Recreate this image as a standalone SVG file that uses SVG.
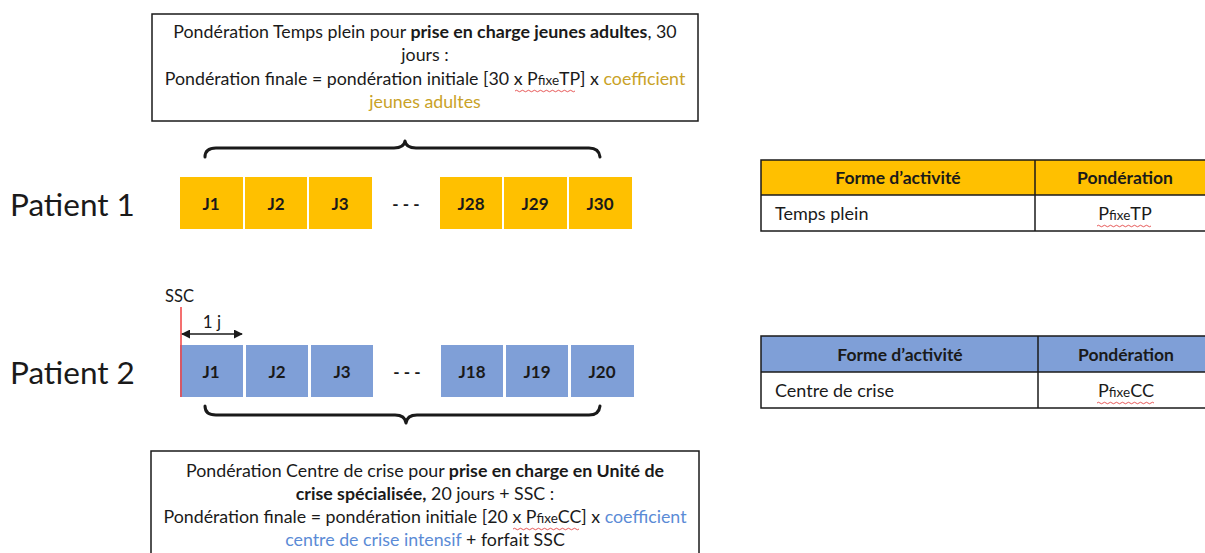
<svg xmlns="http://www.w3.org/2000/svg" width="1205" height="553" viewBox="0 0 1205 553">
  <style>
    text { font-family: Lato, "Open Sans", "Liberation Sans", sans-serif; fill: #1a1a1a; }
    .note { font-size: 17.8px; text-anchor: middle; }
    .b { font-weight: bold; }
    .gold { fill: #C9A227; }
    .blue { fill: #5B8BD6; }
    .sub { font-size: 13.5px; }
    .frame { fill: #fff; stroke: #1a1a1a; stroke-width: 1.5; }
    .day1 { fill: #FFC000; }
    .day2 { fill: #7F9FD7; }
    .dlabel { font-size: 17px; font-weight: bold; text-anchor: middle; }
    .patient { font-size: 31.5px; }
    .brace { fill: none; stroke: #1a1a1a; stroke-width: 3; stroke-linecap: round; stroke-linejoin: round; }
    .grid { fill: none; stroke: #1a1a1a; stroke-width: 1.5; }
    .th { font-size: 17.5px; font-weight: bold; text-anchor: middle; }
    .td { font-size: 18px; }
    .squig { fill: none; stroke: #e03030; stroke-width: 0.8; }
  </style>
  <defs>
    <marker id="ah" viewBox="0 0 10 10" refX="9" refY="5" markerWidth="6" markerHeight="6" orient="auto-start-reverse">
      <path d="M0,0 L10,5 L0,10 z" fill="#1a1a1a"/>
    </marker>
  </defs>
  <rect width="1205" height="553" fill="#fff"/>

  <!-- formula note, full-time young adults -->
  <g id="note-tp">
    <rect class="frame" x="152" y="14" width="546" height="107"/>
    <text class="note" x="425" y="38">Pondération Temps plein pour <tspan class="b">prise en charge jeunes adultes</tspan>, 30</text>
    <text class="note" x="425" y="61">jours :</text>
    <text class="note" x="425" y="85">Pondération finale = pondération initiale [30 x P<tspan class="sub">fixe</tspan>TP] x <tspan class="gold">coefficient</tspan></text>
    <text class="note gold" x="425" y="108">jeunes adultes</text>
    <path class="squig" d="M515,91 q1.5,-1.5 3,0 t3,0 t3,0 t3,0 t3,0 t3,0 t3,0 t3,0 t3,0 t3,0 t3,0 t3,0 t3,0 t3,0 t3,0 t3,0 t3,0 t3,0 t3,0 t3,0"/>
  </g>

  <!-- patient 1 timeline -->
  <g id="patient1">
    <text class="patient" x="10" y="216">Patient 1</text>
    <rect class="day1" x="180" y="177" width="63" height="52"/>
    <rect class="day1" x="245" y="177" width="62" height="52"/>
    <rect class="day1" x="309" y="177" width="63" height="52"/>
    <rect class="day1" x="440" y="177" width="62" height="52"/>
    <rect class="day1" x="504" y="177" width="63" height="52"/>
    <rect class="day1" x="569" y="177" width="63" height="52"/>
    <text class="dlabel" x="211" y="210">J1</text>
    <text class="dlabel" x="276" y="210">J2</text>
    <text class="dlabel" x="340" y="210">J3</text>
    <text class="dlabel" x="406" y="210">- - -</text>
    <text class="dlabel" x="471" y="210">J28</text>
    <text class="dlabel" x="535" y="210">J29</text>
    <text class="dlabel" x="600" y="210">J30</text>
  </g>

  <!-- patient 2 timeline -->
  <g id="patient2">
    <text class="patient" x="10" y="384">Patient 2</text>
    <rect class="day2" x="180" y="345" width="63" height="52"/>
    <rect class="day2" x="246" y="345" width="62" height="52"/>
    <rect class="day2" x="311" y="345" width="62" height="52"/>
    <rect class="day2" x="441" y="345" width="62" height="52"/>
    <rect class="day2" x="506" y="345" width="62" height="52"/>
    <rect class="day2" x="571" y="345" width="63" height="52"/>
    <text class="dlabel" x="211" y="378">J1</text>
    <text class="dlabel" x="277" y="378">J2</text>
    <text class="dlabel" x="342" y="378">J3</text>
    <text class="dlabel" x="407" y="378">- - -</text>
    <text class="dlabel" x="472" y="378">J18</text>
    <text class="dlabel" x="537" y="378">J19</text>
    <text class="dlabel" x="602" y="378">J20</text>
  </g>

  <!-- SSC marker -->
  <g id="ssc">
    <text x="165" y="302" style="font-size:16.5px">SSC</text>
    <line x1="181" y1="307" x2="181" y2="397" stroke="#f04040" stroke-width="1.5"/>
    <text x="212" y="328" style="font-size:17px" text-anchor="middle">1 j</text>
  </g>

  <!-- connectors: braces and duration arrow -->
  <g id="connectors">
    <path class="brace" d="M205,157 Q205,148 216,148 L394,148 Q404,148 405,141 Q406,148 416,148 L589,148 Q599,148 600,157"/>
    <path class="brace" d="M205,406 Q205,415 216,415 L395,415 Q405,415 406,423 Q407,415 417,415 L589,415 Q599,415 600,406"/>
    <line x1="182" y1="334" x2="242" y2="334" stroke="#1a1a1a" stroke-width="1.5" marker-start="url(#ah)" marker-end="url(#ah)"/>
  </g>

  <!-- formula note, crisis centre -->
  <g id="note-cc">
    <rect class="frame" x="151" y="451" width="548" height="110"/>
    <text class="note" x="425" y="477">Pondération Centre de crise pour <tspan class="b">prise en charge en Unité de</tspan></text>
    <text class="note" x="425" y="500"><tspan class="b">crise spécialisée,</tspan> 20 jours + SSC :</text>
    <text class="note" x="425" y="523">Pondération finale = pondération initiale [20 x P<tspan class="sub">fixe</tspan>CC] x <tspan class="blue">coefficient</tspan></text>
    <text class="note" x="425" y="546"><tspan class="blue">centre de crise intensif</tspan> + forfait SSC</text>
    <path class="squig" d="M513,529 q1.5,-1.5 3,0 t3,0 t3,0 t3,0 t3,0 t3,0 t3,0 t3,0 t3,0 t3,0 t3,0 t3,0 t3,0 t3,0 t3,0 t3,0 t3,0 t3,0 t3,0 t3,0 t3,0 t3,0"/>
  </g>

  <!-- weighting table, full time -->
  <g id="table-tp">
    <rect x="761" y="160" width="450" height="35" fill="#FFC000"/>
    <rect class="grid" x="761" y="160" width="450" height="71"/>
    <line class="grid" x1="761" y1="195" x2="1211" y2="195"/>
    <line class="grid" x1="1035" y1="160" x2="1035" y2="231"/>
    <text class="th" x="898" y="184">Forme d’activité</text>
    <text class="th" x="1125" y="184">Pondération</text>
    <text class="td" x="775" y="220">Temps plein</text>
    <text class="td" x="1125" y="220" text-anchor="middle">P<tspan class="sub">fixe</tspan>TP</text>
    <path class="squig" d="M1097,226 q1.5,-1.5 3,0 t3,0 t3,0 t3,0 t3,0 t3,0 t3,0 t3,0 t3,0 t3,0 t3,0 t3,0 t3,0 t3,0 t3,0 t3,0 t3,0 t3,0"/>
  </g>

  <!-- weighting table, crisis centre -->
  <g id="table-cc">
    <rect x="761" y="336" width="450" height="36" fill="#7F9FD7"/>
    <rect class="grid" x="761" y="336" width="450" height="72"/>
    <line class="grid" x1="761" y1="372" x2="1211" y2="372"/>
    <line class="grid" x1="1038" y1="336" x2="1038" y2="408"/>
    <text class="th" x="900" y="361">Forme d’activité</text>
    <text class="th" x="1126" y="361">Pondération</text>
    <text class="td" x="775" y="397">Centre de crise</text>
    <text class="td" x="1126" y="397" text-anchor="middle">P<tspan class="sub">fixe</tspan>CC</text>
    <path class="squig" d="M1097,403 q1.5,-1.5 3,0 t3,0 t3,0 t3,0 t3,0 t3,0 t3,0 t3,0 t3,0 t3,0 t3,0 t3,0 t3,0 t3,0 t3,0 t3,0 t3,0 t3,0 t3,0"/>
  </g>
</svg>
